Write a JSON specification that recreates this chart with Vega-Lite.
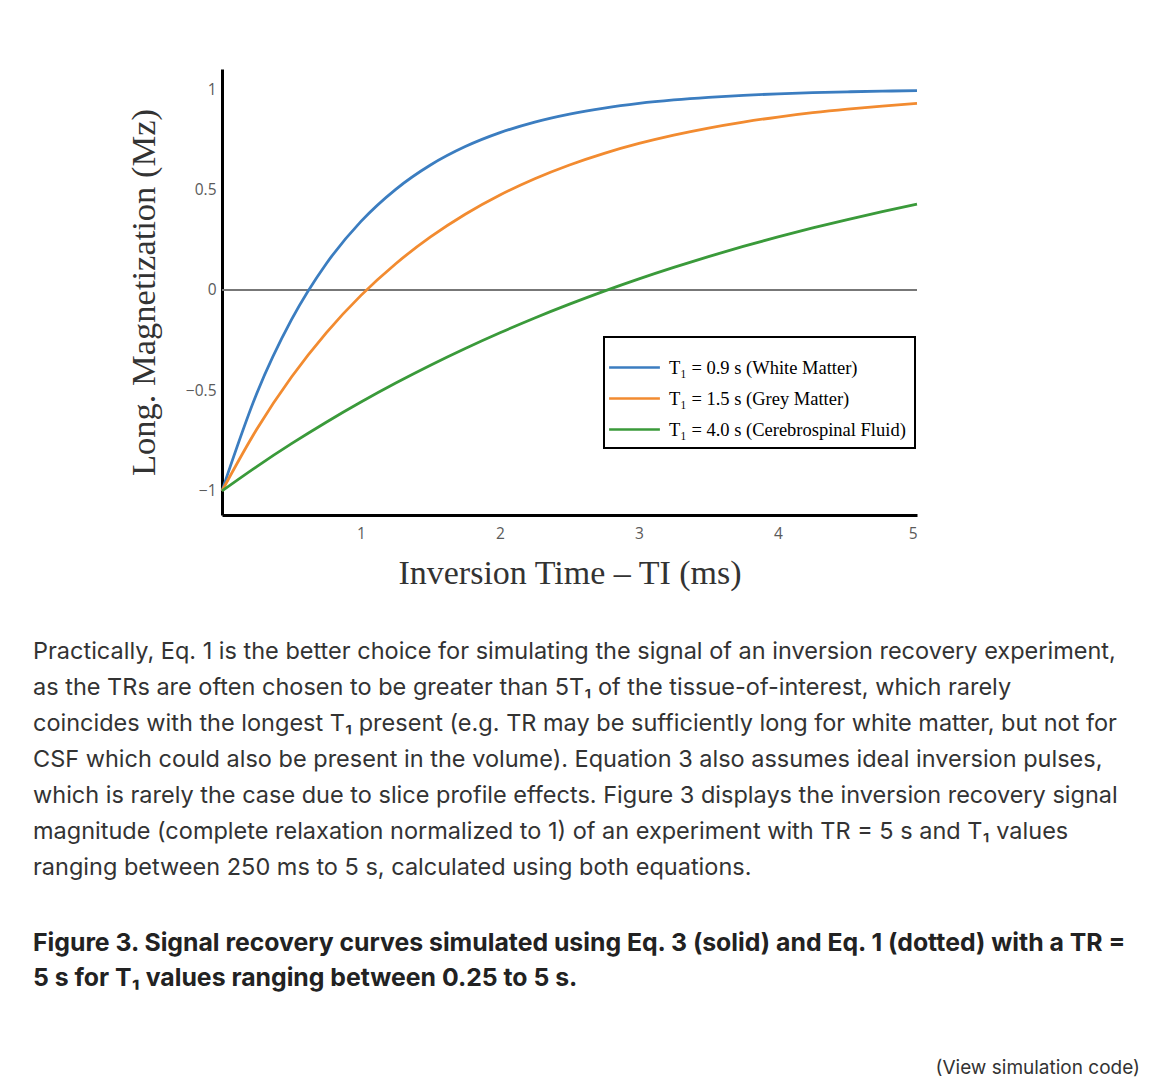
{
  "$schema": "https://vega.github.io/schema/vega-lite/v6.json",
  "background": "white",
  "padding": {"left": 33, "top": 69, "right": 0, "bottom": 0},
  "spacing": 67,
  "config": {"view": {"stroke": null}, "legend": {"strokeWidth": 2}},
  "vconcat": [
    {
      "width": 695,
      "height": 446,
      "title": {
        "text": [
          "Practically, Eq. 1 is the better choice for simulating the signal of an inversion recovery experiment,",
          "as the TRs are often chosen to be greater than 5T₁ of the tissue-of-interest, which rarely",
          "coincides with the longest T₁ present (e.g. TR may be sufficiently long for white matter, but not for",
          "CSF which could also be present in the volume). Equation 3 also assumes ideal inversion pulses,",
          "which is rarely the case due to slice profile effects. Figure 3 displays the inversion recovery signal",
          "magnitude (complete relaxation normalized to 1) of an experiment with TR = 5 s and T₁ values",
          "ranging between 250 ms to 5 s, calculated using both equations."
        ],
        "subtitle": [
          "Figure 3. Signal recovery curves simulated using Eq. 3 (solid) and Eq. 1 (dotted) with a TR =",
          "5 s for T₁ values ranging between 0.25 to 5 s."
        ],
        "orient": "bottom",
        "anchor": "start",
        "frame": "group",
        "dx": -189,
        "offset": 49,
        "font": "Inter",
        "fontSize": 23.5,
        "fontWeight": "normal",
        "color": "#333333",
        "lineHeight": 36,
        "subtitleFont": "Inter",
        "subtitleFontSize": 24.8,
        "subtitleFontWeight": "bold",
        "subtitleColor": "#222222",
        "subtitleLineHeight": 35,
        "subtitlePadding": 52
      },
      "data": {
        "values": [
          {"t": 0, "mz": -1, "s": "T₁ = 0.9 s (White Matter)"},
          {"t": 0.25, "mz": -0.515, "s": "T₁ = 0.9 s (White Matter)"},
          {"t": 0.5, "mz": -0.1477, "s": "T₁ = 0.9 s (White Matter)"},
          {"t": 0.75, "mz": 0.1308, "s": "T₁ = 0.9 s (White Matter)"},
          {"t": 1.0, "mz": 0.3416, "s": "T₁ = 0.9 s (White Matter)"},
          {"t": 1.25, "mz": 0.5012, "s": "T₁ = 0.9 s (White Matter)"},
          {"t": 1.5, "mz": 0.6222, "s": "T₁ = 0.9 s (White Matter)"},
          {"t": 1.75, "mz": 0.7138, "s": "T₁ = 0.9 s (White Matter)"},
          {"t": 2.0, "mz": 0.7832, "s": "T₁ = 0.9 s (White Matter)"},
          {"t": 2.25, "mz": 0.8358, "s": "T₁ = 0.9 s (White Matter)"},
          {"t": 2.5, "mz": 0.8756, "s": "T₁ = 0.9 s (White Matter)"},
          {"t": 2.75, "mz": 0.9058, "s": "T₁ = 0.9 s (White Matter)"},
          {"t": 3.0, "mz": 0.9287, "s": "T₁ = 0.9 s (White Matter)"},
          {"t": 3.25, "mz": 0.9459, "s": "T₁ = 0.9 s (White Matter)"},
          {"t": 3.5, "mz": 0.959, "s": "T₁ = 0.9 s (White Matter)"},
          {"t": 3.75, "mz": 0.969, "s": "T₁ = 0.9 s (White Matter)"},
          {"t": 4.0, "mz": 0.9765, "s": "T₁ = 0.9 s (White Matter)"},
          {"t": 4.25, "mz": 0.9822, "s": "T₁ = 0.9 s (White Matter)"},
          {"t": 4.5, "mz": 0.9865, "s": "T₁ = 0.9 s (White Matter)"},
          {"t": 4.75, "mz": 0.9898, "s": "T₁ = 0.9 s (White Matter)"},
          {"t": 5.0, "mz": 0.9923, "s": "T₁ = 0.9 s (White Matter)"},
          {"t": 0, "mz": -1, "s": "T₁ = 1.5 s (Grey Matter)"},
          {"t": 0.25, "mz": -0.693, "s": "T₁ = 1.5 s (Grey Matter)"},
          {"t": 0.5, "mz": -0.4331, "s": "T₁ = 1.5 s (Grey Matter)"},
          {"t": 0.75, "mz": -0.2131, "s": "T₁ = 1.5 s (Grey Matter)"},
          {"t": 1.0, "mz": -0.0268, "s": "T₁ = 1.5 s (Grey Matter)"},
          {"t": 1.25, "mz": 0.1308, "s": "T₁ = 1.5 s (Grey Matter)"},
          {"t": 1.5, "mz": 0.2642, "s": "T₁ = 1.5 s (Grey Matter)"},
          {"t": 1.75, "mz": 0.3772, "s": "T₁ = 1.5 s (Grey Matter)"},
          {"t": 2.0, "mz": 0.4728, "s": "T₁ = 1.5 s (Grey Matter)"},
          {"t": 2.25, "mz": 0.5537, "s": "T₁ = 1.5 s (Grey Matter)"},
          {"t": 2.5, "mz": 0.6222, "s": "T₁ = 1.5 s (Grey Matter)"},
          {"t": 2.75, "mz": 0.6802, "s": "T₁ = 1.5 s (Grey Matter)"},
          {"t": 3.0, "mz": 0.7293, "s": "T₁ = 1.5 s (Grey Matter)"},
          {"t": 3.25, "mz": 0.7709, "s": "T₁ = 1.5 s (Grey Matter)"},
          {"t": 3.5, "mz": 0.8061, "s": "T₁ = 1.5 s (Grey Matter)"},
          {"t": 3.75, "mz": 0.8358, "s": "T₁ = 1.5 s (Grey Matter)"},
          {"t": 4.0, "mz": 0.861, "s": "T₁ = 1.5 s (Grey Matter)"},
          {"t": 4.25, "mz": 0.8824, "s": "T₁ = 1.5 s (Grey Matter)"},
          {"t": 4.5, "mz": 0.9004, "s": "T₁ = 1.5 s (Grey Matter)"},
          {"t": 4.75, "mz": 0.9157, "s": "T₁ = 1.5 s (Grey Matter)"},
          {"t": 5.0, "mz": 0.9287, "s": "T₁ = 1.5 s (Grey Matter)"},
          {"t": 0, "mz": -1, "s": "T₁ = 4.0 s (Cerebrospinal Fluid)"},
          {"t": 0.25, "mz": -0.8788, "s": "T₁ = 4.0 s (Cerebrospinal Fluid)"},
          {"t": 0.5, "mz": -0.765, "s": "T₁ = 4.0 s (Cerebrospinal Fluid)"},
          {"t": 0.75, "mz": -0.6581, "s": "T₁ = 4.0 s (Cerebrospinal Fluid)"},
          {"t": 1.0, "mz": -0.5576, "s": "T₁ = 4.0 s (Cerebrospinal Fluid)"},
          {"t": 1.25, "mz": -0.4632, "s": "T₁ = 4.0 s (Cerebrospinal Fluid)"},
          {"t": 1.5, "mz": -0.3746, "s": "T₁ = 4.0 s (Cerebrospinal Fluid)"},
          {"t": 1.75, "mz": -0.2913, "s": "T₁ = 4.0 s (Cerebrospinal Fluid)"},
          {"t": 2.0, "mz": -0.2131, "s": "T₁ = 4.0 s (Cerebrospinal Fluid)"},
          {"t": 2.25, "mz": -0.1395, "s": "T₁ = 4.0 s (Cerebrospinal Fluid)"},
          {"t": 2.5, "mz": -0.0706, "s": "T₁ = 4.0 s (Cerebrospinal Fluid)"},
          {"t": 2.75, "mz": -0.0057, "s": "T₁ = 4.0 s (Cerebrospinal Fluid)"},
          {"t": 3.0, "mz": 0.0553, "s": "T₁ = 4.0 s (Cerebrospinal Fluid)"},
          {"t": 3.25, "mz": 0.1125, "s": "T₁ = 4.0 s (Cerebrospinal Fluid)"},
          {"t": 3.5, "mz": 0.1663, "s": "T₁ = 4.0 s (Cerebrospinal Fluid)"},
          {"t": 3.75, "mz": 0.2167, "s": "T₁ = 4.0 s (Cerebrospinal Fluid)"},
          {"t": 4.0, "mz": 0.2642, "s": "T₁ = 4.0 s (Cerebrospinal Fluid)"},
          {"t": 4.25, "mz": 0.3088, "s": "T₁ = 4.0 s (Cerebrospinal Fluid)"},
          {"t": 4.5, "mz": 0.3507, "s": "T₁ = 4.0 s (Cerebrospinal Fluid)"},
          {"t": 4.75, "mz": 0.39, "s": "T₁ = 4.0 s (Cerebrospinal Fluid)"},
          {"t": 5.0, "mz": 0.427, "s": "T₁ = 4.0 s (Cerebrospinal Fluid)"}
        ]
      },
      "layer": [
        {
          "mark": {"type": "rule", "color": "#777777", "strokeWidth": 1.5},
          "encoding": {"y": {"datum": 0}}
        },
        {
          "mark": {"type": "line", "strokeWidth": 2.8, "interpolate": "monotone"},
          "encoding": {
            "x": {
              "field": "t",
              "type": "quantitative",
              "scale": {"domain": [0, 5], "nice": false, "zero": false},
              "axis": {
                "values": [1, 2, 3, 4, 5],
                "grid": false,
                "ticks": false,
                "domainColor": "black",
                "domainWidth": 3,
                "labelFont": "Open Sans",
                "labelFontSize": 15.5,
                "labelColor": "#5a5a5a",
                "labelPadding": 11,
                "title": "Inversion Time – TI (ms)",
                "titleFont": "Liberation Serif",
                "titleFontSize": 34,
                "titleFontWeight": "normal",
                "titleColor": "#333333",
                "titlePadding": 15
              }
            },
            "y": {
              "field": "mz",
              "type": "quantitative",
              "scale": {"domain": [-1.12, 1.1], "nice": false, "zero": false},
              "axis": {
                "values": [-1, -0.5, 0, 0.5, 1],
                "format": "~g",
                "grid": false,
                "ticks": false,
                "domainColor": "black",
                "domainWidth": 3,
                "labelFont": "Open Sans",
                "labelFontSize": 15.5,
                "labelColor": "#5a5a5a",
                "labelPadding": 6,
                "title": "Long. Magnetization (Mz)",
                "titleFont": "Liberation Serif",
                "titleFontSize": 34.5,
                "titleFontWeight": "normal",
                "titleColor": "#333333",
                "titlePadding": 24
              }
            },
            "color": {
              "field": "s",
              "type": "nominal",
              "scale": {
                "domain": ["T₁ = 0.9 s (White Matter)", "T₁ = 1.5 s (Grey Matter)", "T₁ = 4.0 s (Cerebrospinal Fluid)"],
                "range": ["#3b7dc0", "#f28b30", "#3a9a3a"]
              },
              "legend": {
                "orient": "none",
                "legendX": 382,
                "legendY": 268,
                "title": null,
                "symbolType": "M-1.27,0L1.27,0",
                "symbolSize": 1600,
                "symbolStrokeWidth": 2.5,
                "labelFont": "Liberation Serif",
                "labelFontSize": 18.5,
                "labelColor": "black",
                "labelOffset": 13,
                "labelLimit": 400,
                "strokeColor": "black",
                "fillColor": "white",
                "padding": 9,
                "rowPadding": 0
              }
            }
          }
        }
      ]
    },
    {
      "width": 918,
      "height": 20,
      "data": {"values": [{"label": "(View simulation code)", "pos": 1}]},
      "mark": {"type": "text", "align": "right", "font": "Inter", "fontSize": 19, "color": "#333333"},
      "encoding": {
        "x": {"field": "pos", "type": "quantitative", "scale": {"domain": [0, 1]}, "axis": null},
        "text": {"field": "label"}
      }
    }
  ]
}
